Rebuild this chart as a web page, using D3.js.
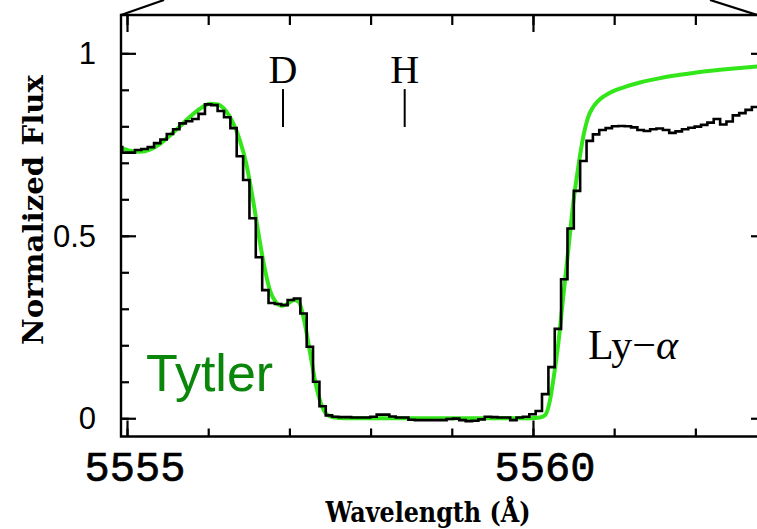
<!DOCTYPE html>
<html><head><meta charset="utf-8">
<script src="https://cdn.jsdelivr.net/npm/d3@7"></script>
<style>
html,body{margin:0;padding:0;background:#fff;}
svg{display:block;}
</style></head>
<body>
<svg id="chart" width="757" height="529"></svg>
<script>
// ---- data ----
const obsEdges = [5554.863,5554.941,5555.020,5555.098,5555.176,5555.255,5555.333,5555.411,5555.490,5555.568,
5555.646,5555.725,5555.803,5555.881,5555.960,5556.038,5556.116,5556.195,5556.273,5556.351,
5556.430,5556.508,5556.586,5556.665,5556.743,5556.821,5556.900,5556.978,5557.056,5557.135,
5557.213,5557.291,5557.370,5557.448,5557.526,5557.605,5557.683,5557.761,5557.840,5557.918,
5557.996,5558.075,5558.153,5558.231,5558.310,5558.388,5558.466,5558.545,5558.623,5558.701,
5558.780,5558.858,5558.936,5559.015,5559.093,5559.171,5559.250,5559.328,5559.406,5559.485,
5559.563,5559.641,5559.720,5559.798,5559.876,5559.955,5560.033,5560.111,5560.190,5560.268,
5560.346,5560.425,5560.503,5560.581,5560.660,5560.738,5560.816,5560.895,5560.973,5561.051,
5561.130,5561.208,5561.286,5561.365,5561.443,5561.521,5561.600,5561.678,5561.756,5561.835,
5561.913,5561.991,5562.070,5562.148,5562.226,5562.305,5562.383,5562.461,5562.540,5562.618,
5562.696,5562.775];
const obsFlux = [0.743,0.728,0.728,0.735,0.738,0.743,0.754,0.764,0.779,0.792,
0.808,0.814,0.820,0.834,0.860,0.858,0.842,0.825,0.795,0.718,
0.653,0.548,0.441,0.351,0.316,0.313,0.310,0.324,0.328,0.287,
0.196,0.100,0.033,0.008,0.004,0.003,0.003,0.002,0.002,0.002,
0.004,0.010,0.010,0.005,0.002,0.002,-0.004,-0.005,-0.005,-0.005,
-0.005,-0.005,-0.002,-0.001,-0.005,-0.008,-0.007,-0.003,0.004,0.003,
0.002,0.002,-0.005,0.002,0.004,0.011,0.020,0.066,0.140,0.245,
0.381,0.520,0.623,0.705,0.760,0.778,0.790,0.795,0.800,0.801,
0.800,0.797,0.790,0.787,0.792,0.794,0.790,0.782,0.786,0.792,
0.796,0.799,0.804,0.810,0.820,0.805,0.813,0.830,0.836,0.845,
0.853];
const modelWave = [5554.926,5555.037,5555.160,5555.283,5555.406,5555.530,5555.653,5555.776,5555.899,5556.022,
5556.121,5556.219,5556.305,5556.392,5556.466,5556.539,5556.613,5556.687,5556.761,5556.835,
5556.909,5556.983,5557.057,5557.118,5557.180,5557.254,5557.328,5557.389,5557.451,5557.537,
5557.685,5559.963,5560.086,5560.148,5560.209,5560.250,5560.312,5560.373,5560.435,5560.496,
5560.558,5560.619,5560.681,5560.739,5560.825,5560.948,5561.133,5561.318,5561.564,5561.810,
5562.057,5562.303,5562.549,5562.870];
const modelFlux = [0.742,0.733,0.730,0.736,0.752,0.775,0.800,0.826,0.848,0.862,
0.860,0.842,0.810,0.760,0.700,0.615,0.515,0.420,0.350,0.318,
0.308,0.314,0.325,0.318,0.270,0.180,0.090,0.040,0.013,0.003,
0.000,0.000,0.002,0.008,0.049,0.104,0.205,0.333,0.461,0.589,
0.689,0.771,0.826,0.852,0.874,0.892,0.908,0.920,0.932,0.941,
0.949,0.955,0.960,0.966];
const xMinorTicks = [5555,5556,5557,5558,5559,5560,5561,5562];
const xMajorTicks = [5555,5560];
const xTickLabels = ["5555","5560"];
const yMinorTicks = [0,0.1,0.2,0.3,0.4,0.5,0.6,0.7,0.8,0.9,1.0];
const yMajorTicks = [0,0.5,1];
const yTickLabels = ["0","0.5","1"];
const lineIds = ["D","H"];
const lineWaves = [5556.921,5558.420];

// ---- layout ----
const L=121, R=766, T=15, B=436.5;
const svg = d3.select("#chart");
const x = d3.scaleLinear().domain([5554.926,5562.870]).range([L,R]);
const y = d3.scaleLinear().domain([-0.05,1.105]).range([B,T]);

svg.append("defs").append("clipPath").attr("id","clip")
  .append("rect").attr("x",L).attr("y",T).attr("width",R-L).attr("height",B-T);

const plot = svg.append("g").attr("clip-path","url(#clip)");

// model (green)
plot.append("path")
  .datum(modelWave.map((w,i)=>[w,modelFlux[i]]))
  .attr("fill","none").attr("stroke","#33e619").attr("stroke-width",4)
  .attr("stroke-linejoin","round")
  .attr("d", d3.line().x(d=>x(d[0])).y(d=>y(d[1])).curve(d3.curveMonotoneX));

// observed histogram (black)
const obsPts = obsFlux.map((f,i)=>[obsEdges[i],f]);
obsPts.push([obsEdges[obsEdges.length-1]+0.2, obsFlux[obsFlux.length-1]]);
plot.append("path")
  .datum(obsPts)
  .attr("fill","none").attr("stroke","#000").attr("stroke-width",2.6)
  .attr("d", d3.line().x(d=>x(d[0])).y(d=>y(d[1])).curve(d3.curveStepAfter));

// ---- axes ----
function styleAxis(g){
  g.select(".domain").remove();
  g.selectAll(".tick line").attr("stroke","#000").attr("stroke-width",2.2);
}
svg.append("g").attr("transform",`translate(0,${B})`)
  .call(d3.axisBottom(x).tickValues(xMinorTicks).tickSize(-8).tickFormat("")).call(styleAxis);
svg.append("g").attr("transform",`translate(0,${B})`)
  .call(d3.axisBottom(x).tickValues(xMajorTicks).tickSize(-16).tickFormat("")).call(styleAxis);
svg.append("g").attr("transform",`translate(0,${T})`)
  .call(d3.axisTop(x).tickValues(xMinorTicks).tickSize(-10).tickFormat("")).call(styleAxis);
svg.append("g").attr("transform",`translate(0,${T})`)
  .call(d3.axisTop(x).tickValues(xMajorTicks).tickSize(-17).tickFormat("")).call(styleAxis);
svg.append("g").attr("transform",`translate(${L},0)`)
  .call(d3.axisLeft(y).tickValues(yMinorTicks).tickSize(-8).tickFormat("")).call(styleAxis);
svg.append("g").attr("transform",`translate(${L},0)`)
  .call(d3.axisLeft(y).tickValues(yMajorTicks).tickSize(-15).tickFormat("")).call(styleAxis);
svg.append("g").attr("transform",`translate(${R},0)`)
  .call(d3.axisRight(y).tickValues(yMajorTicks).tickSize(-15).tickFormat("")).call(styleAxis);

// frame
svg.append("path").attr("fill","none").attr("stroke","#000").attr("stroke-width",2.4)
  .attr("d",`M${R},${T}H${L}V${B}H${R}`);
// connector lines above the frame
svg.append("line").attr("x1",L).attr("y1",T).attr("x2",164).attr("y2",0)
  .attr("stroke","#000").attr("stroke-width",2.2);
svg.append("line").attr("x1",757).attr("y1",T).attr("x2",710).attr("y2",0)
  .attr("stroke","#000").attr("stroke-width",2.2);

// tick labels
svg.selectAll(".xl").data(xMajorTicks).enter().append("text")
  .attr("x",(d,i)=>x(d)+(i?12:8)).attr("y",481).attr("text-anchor","middle")
  .attr("font-family","Liberation Mono").attr("font-size",42)
  .attr("stroke","#000").attr("stroke-width",0.7)
  .text((d,i)=>xTickLabels[i]);
svg.selectAll(".yl").data(yMajorTicks).enter().append("text")
  .attr("x",96).attr("y",d=>y(d)+11).attr("text-anchor","end")
  .attr("font-family","Liberation Sans").attr("font-size",31)
  .text((d,i)=>yTickLabels[i]);

// axis titles
svg.append("text").attr("x",428).attr("y",522).attr("text-anchor","middle")
  .attr("font-family","DejaVu Serif").attr("font-weight","bold").attr("font-size",27)
  .attr("textLength",205).attr("lengthAdjust","spacingAndGlyphs")
  .text("Wavelength (Å)");
svg.append("text").attr("transform","translate(43,210) rotate(-90)").attr("text-anchor","middle")
  .attr("font-family","DejaVu Serif").attr("font-weight","bold").attr("font-size",27)
  .attr("textLength",270).attr("lengthAdjust","spacingAndGlyphs")
  .text("Normalized Flux");

// D / H markers
lineIds.forEach((id,i)=>{
  const cx = x(lineWaves[i]);
  svg.append("line").attr("x1",cx).attr("x2",cx).attr("y1",y(0.902)).attr("y2",y(0.798))
    .attr("stroke","#000").attr("stroke-width",2);
  svg.append("text").attr("x",cx).attr("y",y(0.9186)).attr("text-anchor","middle")
    .attr("font-family","Liberation Serif").attr("font-size",40)
    .text(id);
});

// Tytler label
svg.append("text").attr("x",146).attr("y",391)
  .attr("font-family","Liberation Sans").attr("font-size",52).attr("fill","#0a870a")
  .text("Tytler");

// Ly-alpha label
const ly = svg.append("text").attr("x",588).attr("y",359)
  .attr("font-family","Liberation Serif").attr("font-size",42);
ly.append("tspan").text("Ly−");
ly.append("tspan").attr("font-style","italic").text("α");
</script>
</body></html>
